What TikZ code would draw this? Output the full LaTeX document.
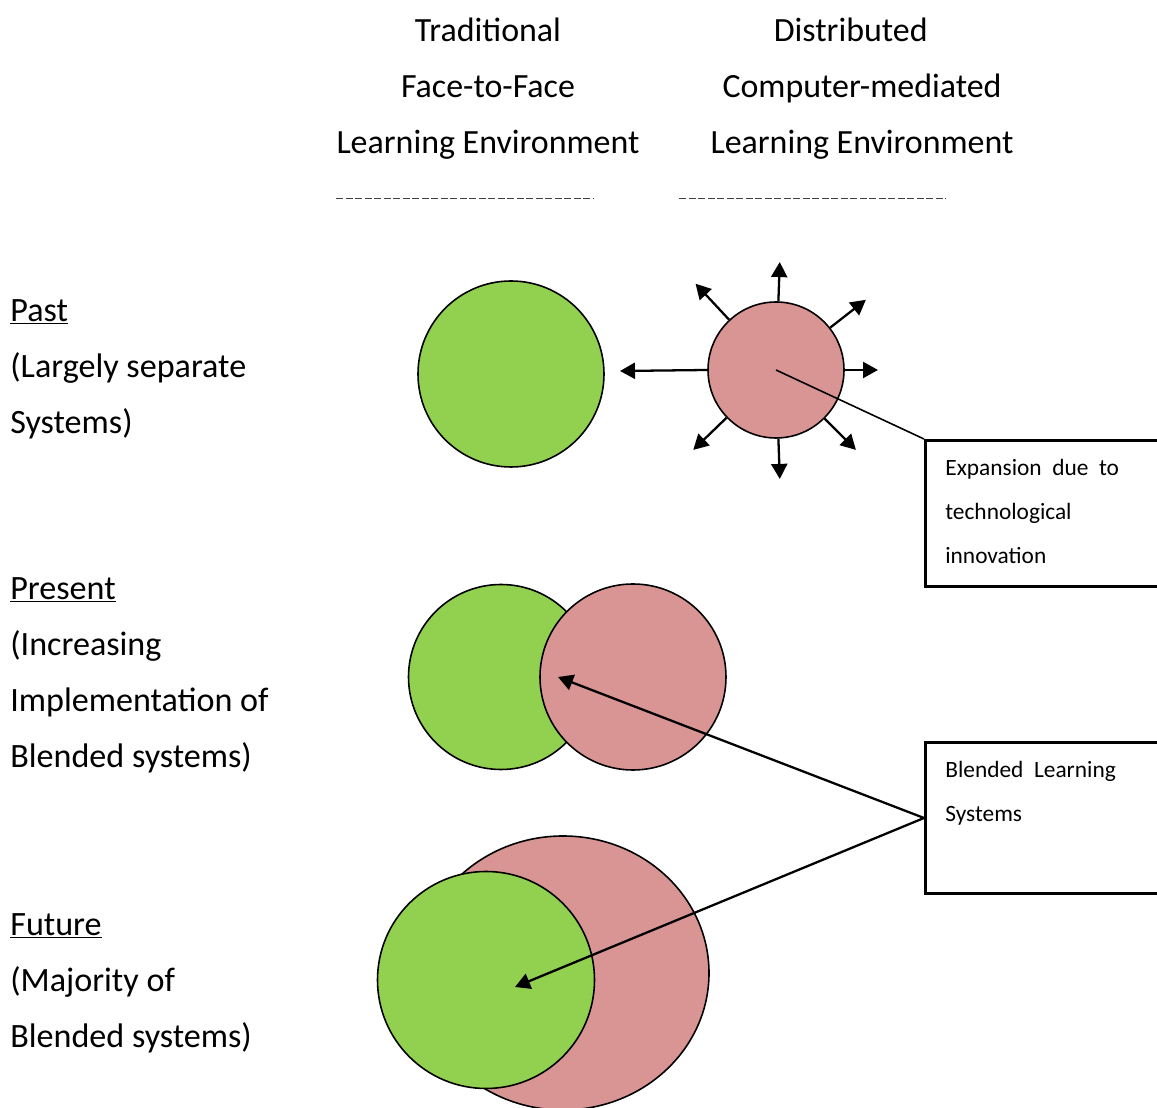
\documentclass[tikz,border=0pt]{standalone}
\usepackage{fontspec}
\setmainfont{Carlito}
\usetikzlibrary{arrows.meta,shapes.geometric}
\definecolor{leafgreen}{HTML}{92D050}
\definecolor{rosepink}{HTML}{D99594}

\begin{document}
\begin{tikzpicture}[x=0.2mm,y=0.2mm,
  green node/.style={circle,draw,line width=0.9pt,fill=leafgreen,inner sep=0pt},
  pink node/.style={circle,draw,line width=0.9pt,fill=rosepink,inner sep=0pt},
  head text/.style={align=center,inner sep=0pt,font=\fontsize{19.3}{31.9}\selectfont},
  side text/.style={align=left,anchor=west,inner sep=0pt,font=\fontsize{19.4}{31.9}\selectfont},
  label box/.style={draw,line width=1.7pt,anchor=north west,minimum width=5.2cm,inner sep=0pt},
  box text/.style={align=left,anchor=north west,inner sep=0pt,font=\fontsize{13.3}{25}\selectfont},
  grow arrow/.style={line width=1.3pt,-{Triangle[length=3mm,width=3.2mm]}},
  dash rule/.style={line width=0.5pt,draw=black!75,dash pattern=on 1.4mm off 0.5mm}]

  \path[use as bounding box] (0,0) rectangle (1157,1108);
  \clip (0,0) rectangle (1157,1108);

  % column headings
  \node[head text] (trad) at (488,1019) {Traditional\\Face-to-Face\\Learning Environment};
  \node[head text] (dist) at (862,1019) {Distributed\hspace*{4.5mm}\\Computer-mediated\\Learning Environment};
  \draw[dash rule] (336,910) -- (594,910);
  \draw[dash rule] (679,910) -- (946,910);

  % row labels
  \node[side text] (past) at (10,739) {\underline{Past}\\(Largely separate\\Systems)};
  \node[side text] (present) at (10,433) {\underline{Present}\\(Increasing\\Implementation of\\Blended systems)};
  \node[side text] (future) at (10,125) {\underline{Future}\\(Majority of\\Blended systems)};

  % past
  \node[green node,minimum size=3.72cm] (g1) at (511,734) {};
  \node[pink node,minimum size=2.72cm] (p1) at (776,738) {};
  \coordinate (w1) at (620,737);
  \draw[grow arrow] (p1.west) -- (w1);
  \foreach \a/\r [count=\i] in {88/108,133/118,38/114,0/102,-45/113,-88/109,-136/115}
    \path (p1.center) ++(\a:\r) coordinate (tip\i);
  \foreach \a [count=\i] in {88,133,38,0,-45,-88,-136}
    \draw[grow arrow] (p1.\a) -- (tip\i);

  % present
  \node[green node,minimum size=3.7cm] (g2) at (501,431) {};
  \node[pink node,minimum size=3.72cm] (p2) at (633,431) {};

  % future
  \node[pink node,ellipse,minimum width=5.84cm,minimum height=5.48cm] (p3) at (563,135) {};
  \node[green node,minimum size=4.34cm] (g3) at (486,128) {};

  % callout boxes
  \node[label box,minimum height=2.92cm] (box1) at (924,669) {};
  \node[box text] (box1 text) at (945,649) {Expansion\ \ due\ \ to\\technological\\innovation};
  \draw[line width=0.9pt] (p1.center) -- (box1.north west);

  \node[label box,minimum height=3.02cm] (box2) at (924,367) {};
  \node[box text] (box2 text) at (945,347) {Blended\ \ Learning\\Systems};
  \coordinate (t2) at (558,431);
  \coordinate (t3) at (515,121);
  \draw[grow arrow] (box2.west) -- (t2);
  \draw[grow arrow] (box2.west) -- (t3);
\end{tikzpicture}
\end{document}
